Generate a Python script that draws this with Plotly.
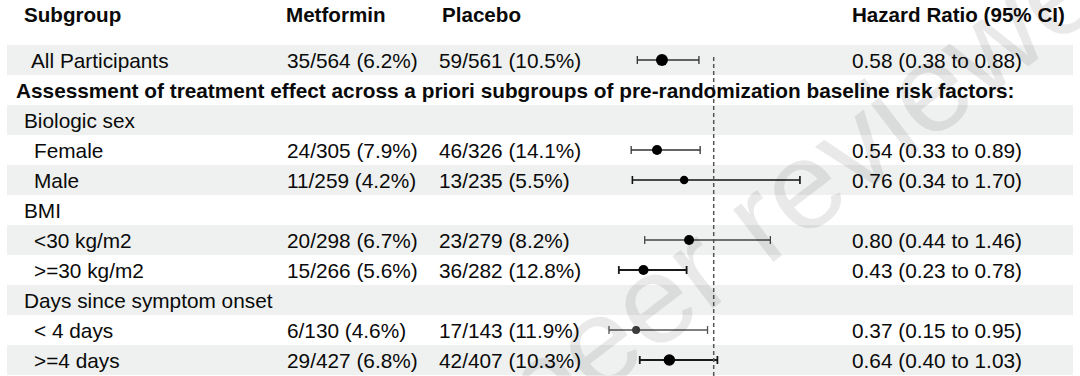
import plotly.graph_objects as go

# ---------------- data ----------------
header_labels = ["Subgroup", "Metformin", "Placebo", "Hazard Ratio (95% CI)"]

row_labels = [
    "All Participants",
    "Assessment of treatment effect across a priori subgroups of pre-randomization baseline risk factors:",
    "Biologic sex",
    "Female",
    "Male",
    "BMI",
    "<30 kg/m2",
    ">=30 kg/m2",
    "Days since symptom onset",
    "< 4 days",
    ">=4 days",
]
row_kind = ["item", "section", "group", "sub", "sub", "group", "sub", "sub", "group", "sub", "sub"]

metformin = ["35/564 (6.2%)", "", "", "24/305 (7.9%)", "11/259 (4.2%)", "",
             "20/298 (6.7%)", "15/266 (5.6%)", "", "6/130 (4.6%)", "29/427 (6.8%)"]
placebo = ["59/561 (10.5%)", "", "", "46/326 (14.1%)", "13/235 (5.5%)", "",
           "23/279 (8.2%)", "36/282 (12.8%)", "", "17/143 (11.9%)", "42/407 (10.3%)"]

hr = [0.58, None, None, 0.54, 0.76, None, 0.80, 0.43, None, 0.37, 0.64]
ci_low = [0.38, None, None, 0.33, 0.34, None, 0.44, 0.23, None, 0.15, 0.40]
ci_high = [0.88, None, None, 0.89, 1.70, None, 1.46, 0.78, None, 0.95, 1.03]

REF_HR = 1.0
WATERMARK = "Preprint not peer reviewed"

# ---------------- styling ----------------
W, H = 1080, 376
FONT = "Liberation Sans, Arial, Helvetica, sans-serif"
TXT = "#0a0a0a"
BAND = "#EEF1EF"
FS = 20.8
FS_HEAD = 20.6

marker_size = [12, None, None, 10, 8.5, None, 10, 10, None, 8, 11.5]
marker_color = ["#000", None, None, "#000", "#000", None, "#000", "#000", None, "#3c3c3c", "#000"]
line_color = ["#333", None, None, "#333", "#111", None, "#444", "#1a1a1a", None, "#555", "#1a1a1a"]
line_width = [1.3, None, None, 1.3, 1.6, None, 1.3, 1.8, None, 1.3, 1.8]

label_x = {"item": 29, "section": 14, "group": 22, "sub": 32}
col_x = {"met": 285, "pla": 437, "hr": 850}
header_x = [22, 284, 440, 850]

def esc(s):
    return s.replace("&", "&amp;").replace("<", "&lt;").replace(">", "&gt;")

fig = go.Figure()

# forest plot marks
for i in range(len(row_labels)):
    if hr[i] is None:
        continue
    y = i + 1
    fig.add_trace(go.Scatter(
        x=[hr[i]], y=[y], mode="markers",
        marker=dict(size=marker_size[i], color=marker_color[i], line=dict(width=0)),
        error_x=dict(type="data", symmetric=False,
                     array=[ci_high[i] - hr[i]], arrayminus=[hr[i] - ci_low[i]],
                     color=line_color[i], thickness=line_width[i], width=4),
        showlegend=False, hoverinfo="skip", cliponaxis=False,
    ))

shapes = []
# alternating row bands
for i in range(len(row_labels)):
    if i % 2 == 0:
        shapes.append(dict(type="rect", xref="paper", yref="y",
                           x0=7 / W, x1=1073 / W, y0=i + 0.5, y1=i + 1.5,
                           fillcolor=BAND, line=dict(width=0), layer="below"))
# reference line at HR = 1
shapes.append(dict(type="line", xref="x", yref="y", x0=REF_HR, x1=REF_HR,
                   y0=0.9, y1=11.6, line=dict(color="#555", width=1.5, dash="4px,3px")))

annotations = []
# watermark
annotations.append(dict(text=WATERMARK, xref="paper", yref="paper",
                        x=555 / W, y=1 - 374 / H, showarrow=False, textangle=-37.5,
                        font=dict(family=FONT, size=125, color="rgba(0,0,0,0.085)"),
                        xanchor="center", yanchor="middle"))
# headers
for t, hx in zip(header_labels, header_x):
    annotations.append(dict(text="<b>" + esc(t) + "</b>", xref="paper", yref="y",
                            x=hx / W, y=-0.53, showarrow=False, xanchor="left", yanchor="middle",
                            font=dict(family=FONT, size=FS_HEAD, color=TXT)))
# rows
for i, lab in enumerate(row_labels):
    y = i + 1
    kind = row_kind[i]
    txt = esc(lab)
    if kind == "section":
        txt = "<b>" + txt + "</b>"
    annotations.append(dict(text=txt, xref="paper", yref="y", x=label_x[kind] / W, y=y,
                            showarrow=False, xanchor="left", yanchor="middle",
                            font=dict(family=FONT, size=FS, color=TXT)))
    if metformin[i]:
        annotations.append(dict(text=esc(metformin[i]), xref="paper", yref="y", x=col_x["met"] / W, y=y,
                                showarrow=False, xanchor="left", yanchor="middle",
                                font=dict(family=FONT, size=FS, color=TXT)))
    if placebo[i]:
        annotations.append(dict(text=esc(placebo[i]), xref="paper", yref="y", x=col_x["pla"] / W, y=y,
                                showarrow=False, xanchor="left", yanchor="middle",
                                font=dict(family=FONT, size=FS, color=TXT)))
    if hr[i] is not None:
        s = f"{hr[i]:.2f} ({ci_low[i]:.2f} to {ci_high[i]:.2f})"
        annotations.append(dict(text=s, xref="paper", yref="y", x=col_x["hr"] / W, y=y,
                                showarrow=False, xanchor="left", yanchor="middle",
                                font=dict(family=FONT, size=FS, color=TXT)))

fig.update_layout(
    width=W, height=H, margin=dict(l=0, r=0, t=0, b=0),
    paper_bgcolor="white", plot_bgcolor="rgba(0,0,0,0)",
    xaxis=dict(domain=[590.5 / W, 836.9 / W], range=[0, 2], visible=False, fixedrange=True),
    yaxis=dict(domain=[0, 1], range=[(H - 30) / 30, -1], visible=False, fixedrange=True),
    shapes=shapes, annotations=annotations, showlegend=False,
)

fig.write_html("out.html", config={"displayModeBar": False},
               post_script="document.body.style.margin='0';document.body.style.overflow='hidden';")
